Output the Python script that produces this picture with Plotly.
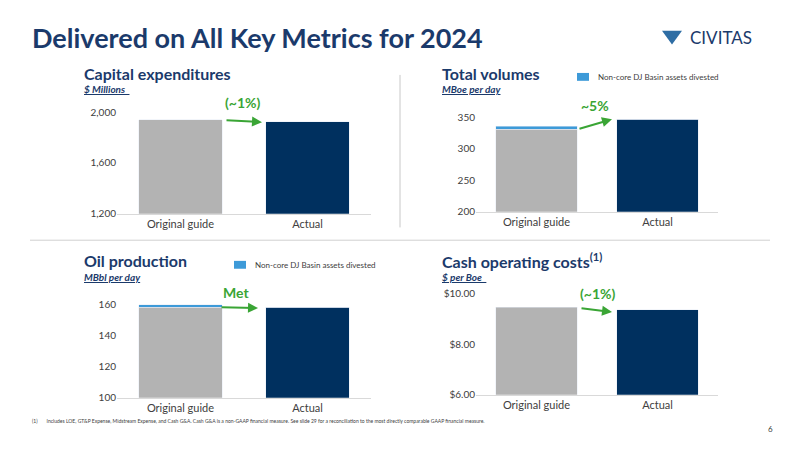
import plotly.graph_objects as go

cats = ["Original guide", "Actual"]
capex = [1940, 1925]
vol_base = [331, 347]
vol_div = [5, 0]
oil_base = [158.5, 158.5]
oil_div = [1.5, 0]
cash = [9.45, 9.35]

GRAY = "#b3b3b3"; NAVY = "#00305f"; LBLUE = "#3d9ad8"; GREEN = "#3aa535"; TITLE = "#1b3a6b"
FONT = "Lato"
W = 784.0; H = 434.0; OFF = 8.0
def px(x): return (x - OFF) / W
def py(y): return 1 - (y - OFF) / H

fig = go.Figure()
def add(xa, ya, base, extra=None, w=0.66):
    fig.add_bar(x=cats, y=base, xaxis=xa, yaxis=ya, marker_color=[GRAY, NAVY], width=w, showlegend=False)
    if extra:
        fig.add_bar(x=cats, y=extra, xaxis=xa, yaxis=ya, marker_color=LBLUE, width=w, showlegend=False)

add("x", "y", capex)
add("x2", "y2", vol_base, vol_div, w=0.67)
add("x3", "y3", oil_base, oil_div)
add("x4", "y4", cash, w=0.67)

def yd(bot, top): return [py(bot), py(top)]
ax = dict(showgrid=False, zeroline=False, showline=True, linecolor="#d9d9d9",
          tickfont=dict(family=FONT, size=11, color="#404040"), ticks="", fixedrange=True)
yax = dict(showgrid=False, zeroline=False, showline=False, tickfont=dict(family=FONT, size=10, color="#404040"), ticks="")
fig.update_layout(
    barmode="stack", width=W, height=H, margin=dict(l=0, r=0, t=0, b=0),
    paper_bgcolor="white", plot_bgcolor="white",
    xaxis=dict(domain=[px(117), px(371)], anchor="y", **ax),
    yaxis=dict(domain=yd(216, 105), range=[1200, 2062], tickvals=[1200, 1600, 2000], tickformat=",", anchor="x", **yax),
    xaxis2=dict(domain=[px(476), px(718)], anchor="y2", **ax),
    yaxis2=dict(domain=yd(214, 111.6), range=[200, 360], tickvals=[200, 250, 300, 350], anchor="x2", **yax),
    xaxis3=dict(domain=[px(117), px(371)], anchor="y3", **ax),
    yaxis3=dict(domain=yd(403, 301), range=[100, 165], tickvals=[100, 120, 140, 160], anchor="x3", **yax),
    xaxis4=dict(domain=[px(476), px(718)], anchor="y4", **ax),
    yaxis4=dict(domain=yd(400, 292), range=[6, 10.2], tickvals=[6, 8, 10], tickformat="$.2f", anchor="x4", **yax),
)

ann = []
def t(x, y, s, size, color=TITLE, bold=False, xa="left", italic=False, underline=False):
    if bold: s = "<b>" + s + "</b>"
    if italic: s = "<i>" + s + "</i>"
    if underline: s = "<u>" + s + "</u>"
    ann.append(dict(x=px(x), y=py(y), xref="paper", yref="paper", text=s, showarrow=False,
                    xanchor=xa, yanchor="middle", font=dict(family=FONT, size=size, color=color)))
t(30, 37, "Delivered on All Key Metrics for 2024", 27, bold=True)
t(82, 74, "Capital expenditures", 16, bold=True)
t(82, 89, "$ Millions  ", 10, bold=True, italic=True, underline=True)
t(440, 74, "Total volumes", 16, bold=True)
t(440, 89, "MBoe per day", 10, bold=True, italic=True, underline=True)
t(82, 264, "Oil production", 16, bold=True)
t(82, 280, "MBbl per day", 10, bold=True, italic=True, underline=True)
t(440, 264, "Cash operating costs<sup>(1)</sup>", 16, bold=True)
t(440, 280, "$ per Boe  ", 10, bold=True, italic=True, underline=True)
t(596, 77, "Non-core DJ Basin assets divested", 8, color="#404040")
t(253, 268, "Non-core DJ Basin assets divested", 8, color="#404040")
t(30, 427, "(1)       Includes LOE, GT&P Expense, Midstream Expense, and Cash G&A. Cash G&A is a non-GAAP financial measure. See slide 29 for a reconciliation to the most directly comparable GAAP financial measure.", 5, color="#404040")
t(766, 435, "6", 8, color="#404040")
t(688, 37, "CIVITAS", 17, color=TITLE)
t(243, 103, "(~1%)", 14, color=GREEN, bold=True, xa="center")
t(595, 106, "~5%", 14, color=GREEN, bold=True, xa="center")
t(236, 296, "Met", 14, color=GREEN, bold=True, xa="center")
t(598, 297, "(~1%)", 14, color=GREEN, bold=True, xa="center")

def arrow(x0, y0, x1, y1):
    ann.append(dict(x=px(x1), y=py(y1), ax=x0-x1, ay=y0-y1, xref="paper", yref="paper",
                    axref="pixel", ayref="pixel", text="", showarrow=True, arrowhead=2,
                    arrowsize=1, arrowwidth=2, arrowcolor=GREEN))
arrow(225, 121, 262, 123)
arrow(578, 130, 612, 120)
arrow(220, 311, 258, 312)
arrow(580, 312, 612, 316)
fig.update_layout(annotations=ann)

shapes = [
    dict(type="rect", xref="paper", yref="paper", x0=px(577), x1=px(589), y0=py(81), y1=py(73), fillcolor=LBLUE, line_width=0),
    dict(type="rect", xref="paper", yref="paper", x0=px(234), x1=px(246), y0=py(272), y1=py(264), fillcolor=LBLUE, line_width=0),
    dict(type="line", xref="paper", yref="paper", x0=px(400), x1=px(400), y0=py(75), y1=py(230), line=dict(color="#c8c8c8", width=1)),
    dict(type="line", xref="paper", yref="paper", x0=px(30), x1=px(770), y0=py(243), y1=py(243), line=dict(color="#d0d0d0", width=1)),
    dict(type="path", xref="paper", yref="paper",
         path=f"M {px(662)} {py(30)} L {px(672)} {py(44)} L {px(682)} {py(30)} Z", fillcolor="#2e6da4", line_width=0),
]
fig.update_layout(shapes=shapes)
fig.write_html("out.html")
